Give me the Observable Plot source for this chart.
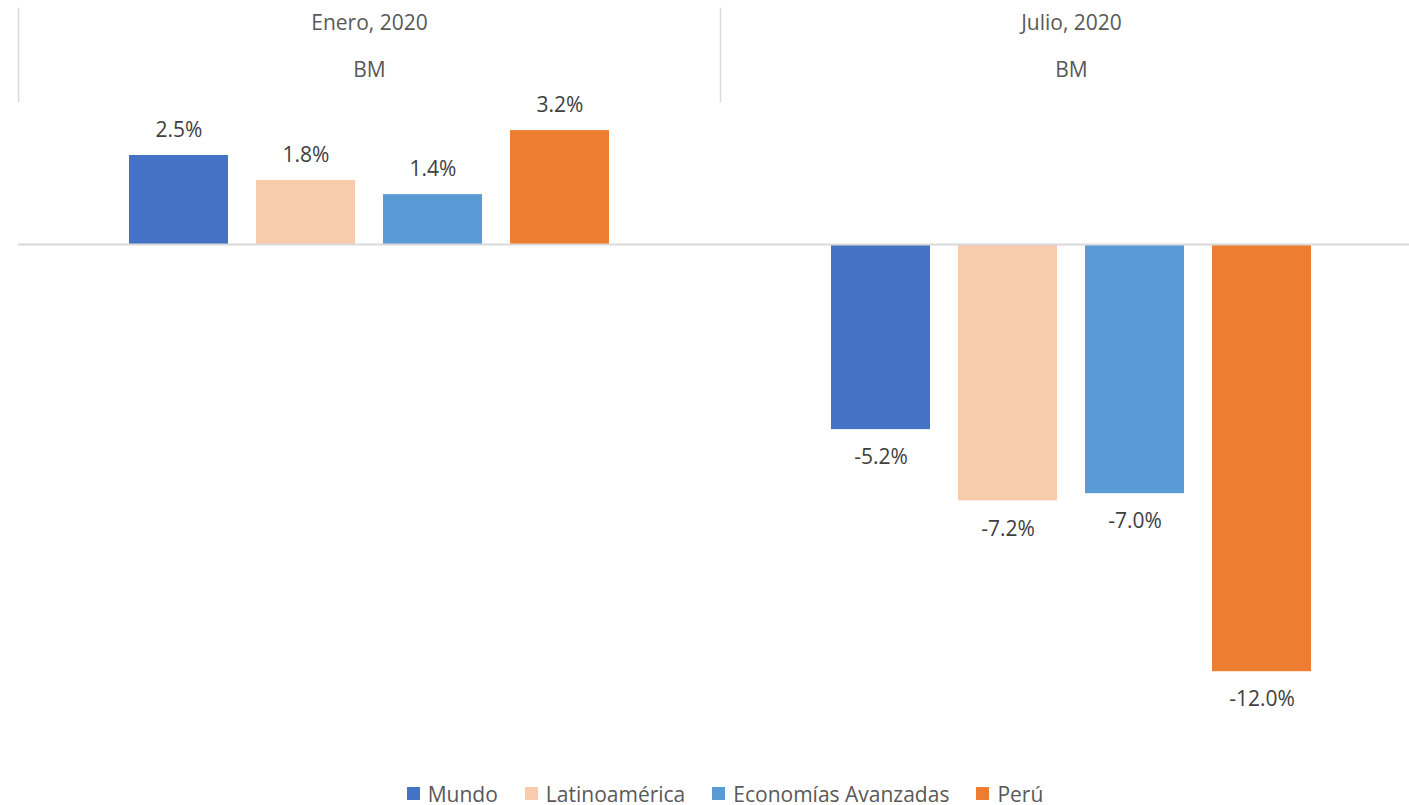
<!DOCTYPE html>
<html>
<head>
<meta charset="utf-8">
<script src="https://cdn.jsdelivr.net/npm/d3@7"></script>
<script src="https://cdn.jsdelivr.net/npm/@observablehq/plot@0.6"></script>
<style>
  html, body { margin: 0; padding: 0; background: #fff; overflow: hidden; }
  #wrap { width: 1409px; overflow: hidden; }
  .lg-swatches { justify-content: center; padding-left: 68px; margin-top: 17px; }
  .lg-swatch { margin-right: 27px !important; }
  .lg-swatch > svg { margin-right: 8px !important; }
</style>
</head>
<body>
<div id="wrap"></div>
<script>
const periods = ["Enero, 2020", "Julio, 2020"];
const source = ["BM", "BM"];
const series = ["Mundo", "Latinoamérica", "Economías Avanzadas", "Perú"];
const colors = ["#4472C4", "#F8CBAD", "#5B9BD5", "#ED7D31"];
const enero = [2.5, 1.8, 1.4, 3.2];
const julio = [-5.2, -7.2, -7.0, -12.0];

const data = [];
series.forEach((s, i) => {
  data.push({period: periods[0], series: s, value: enero[i]});
  data.push({period: periods[1], series: s, value: julio[i]});
});
const heads = periods.map((p, i) => ({period: p, src: source[i]}));

const font = "'Open Sans', 'Noto Sans', sans-serif";

const chart = Plot.plot({
  width: 1409,
  height: 760,
  marginTop: 66,
  marginBottom: 17.6,
  marginLeft: 17,
  marginRight: -13,
  style: {fontFamily: font, fontSize: "21px", background: "white", overflow: "hidden"},
  fx: {domain: periods, padding: 0, axis: null},
  x: {domain: series, paddingInner: 0.21875, paddingOuter: 0.8535, axis: null},
  y: {domain: [-14, 5], axis: null},
  color: {domain: series, range: colors},
  marks: [
    Plot.frame({anchor: "left", stroke: "#D9D9D9", strokeWidth: 1.5, insetTop: -58, insetBottom: 641.4}),
    Plot.barY(data, {fx: "period", x: "series", y: "value", fill: "series"}),
    Plot.ruleY([0], {stroke: "#D9D9D9", strokeWidth: 2}),
    Plot.text(data.filter(d => d.value >= 0), {fx: "period", x: "series", y: "value", text: d => d.value.toFixed(1) + "%", dy: -25, fill: "#404040", fontSize: 21}),
    Plot.text(data.filter(d => d.value < 0), {fx: "period", x: "series", y: "value", text: d => d.value.toFixed(1) + "%", dy: 28, fill: "#404040", fontSize: 21}),
    Plot.text(heads, {fx: "period", frameAnchor: "top", lineAnchor: "middle", dy: -43, text: "period", fill: "#595959", fontSize: 21}),
    Plot.text(heads, {fx: "period", frameAnchor: "top", lineAnchor: "middle", dy: 4, text: "src", fill: "#595959", fontSize: 21})
  ]
});

const legend = Plot.legend({
  color: {domain: series, range: colors},
  legend: "swatches",
  swatchSize: 13,
  className: "lg",
  style: {fontFamily: font, fontSize: "21px", color: "#595959"}
});

const wrap = document.getElementById("wrap");
wrap.appendChild(chart);
wrap.appendChild(legend);
</script>
</body>
</html>
